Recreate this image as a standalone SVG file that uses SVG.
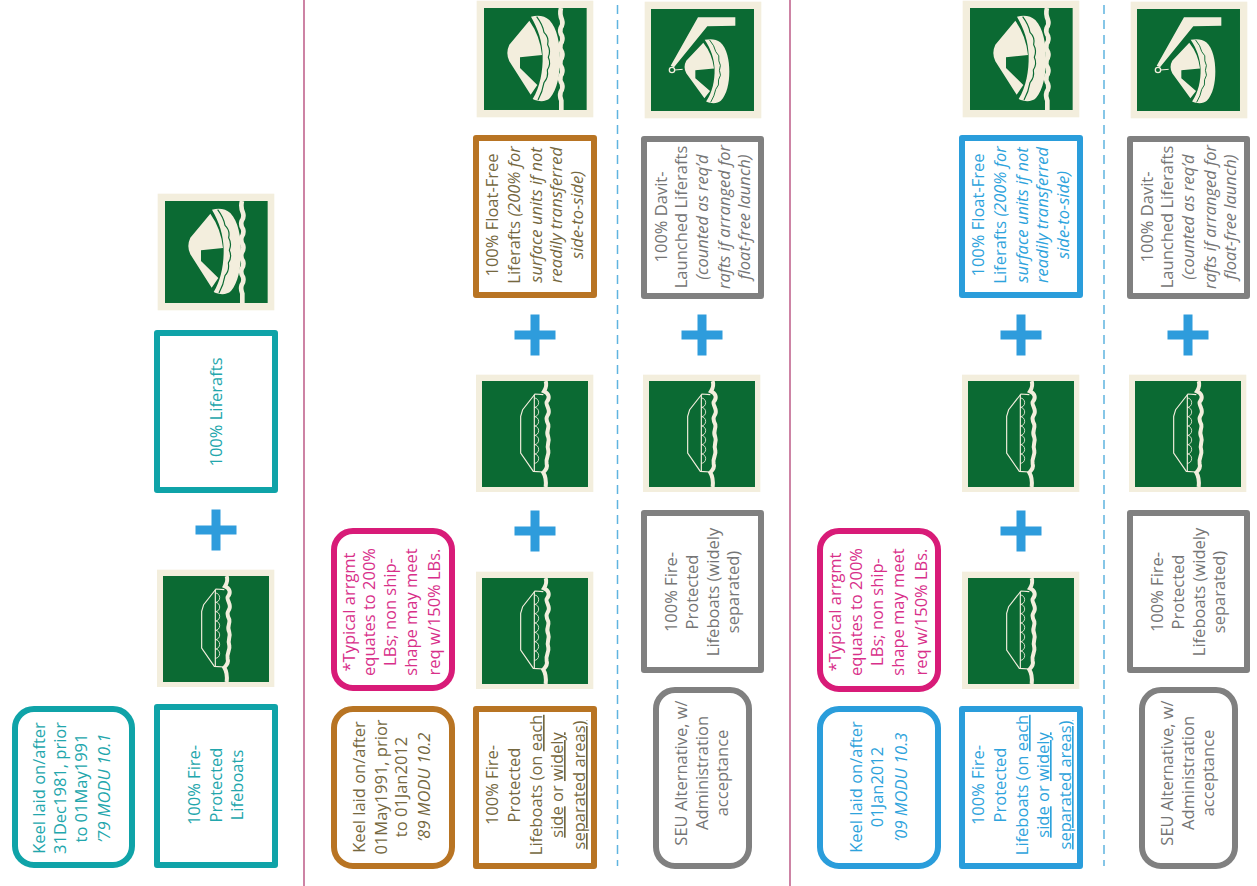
<svg xmlns="http://www.w3.org/2000/svg" xmlns:xlink="http://www.w3.org/1999/xlink" width="1257" height="886" viewBox="0 0 1257 886">
<style>
text{font-family:"Open Sans","Noto Sans","Liberation Sans",sans-serif;font-size:16.5px;text-anchor:middle}
.i{font-style:italic}.u{text-decoration:underline}
rect.b,rect.r{fill:#fff;stroke-width:6;stroke-linejoin:round}
.teal rect{stroke:#0fa3a8}.teal text{fill:#22a6ac}
.brown rect{stroke:#b87423}.brown text{fill:#75683f}
.grey rect{stroke:#808080}.grey text{fill:#757575}
.pink rect{stroke:#d81b78}.pink text{fill:#d8308a}
.blue rect{stroke:#2a9ddb}.blue text{fill:#2ea3dc}
.cream{fill:#f3eedd}.green{fill:#0b6a33}
.plus{fill:#2e9cdc}
.pl{stroke:#b8507f;stroke-width:1.4;fill:none}
.bl{stroke:#5fb4e0;stroke-width:1.5;stroke-dasharray:9 6;fill:none}
</style>
<defs>
<g id="raftbody">
<path class="cream" d="M148 50L88 122Q76 147 88 172L152 272L172 243L120 192L120 160L186 153Q180 95 148 50Z"/>
<path class="cream" d="M153 38C175 32 195 36 208 48C232 73 240 120 240 165C240 210 232 257 210 282C198 294 176 294 158 285C180 250 189 200 188 155C187 115 175 75 153 38Z"/>
<path d="M170 38Q188 62 192 85Q208 100 203 122Q213 140 205 160Q214 180 202 198Q206 220 192 236Q188 262 174 288" fill="none" stroke="#0b6a33" stroke-width="3.500"/>
</g>
<g id="raft">
<rect class="cream" x="-10" y="-10" width="350" height="350"/>
<rect class="green" x="12" y="12" width="308" height="306"/>
<use xlink:href="#raftbody" href="#raftbody"/>
<path d="M243 12Q238 30 246 48Q250 60 242 72Q238 84 246 96Q250 108 242 120Q238 132 246 144Q250 156 242 168Q238 180 246 192Q250 204 242 216Q238 228 246 240Q250 252 242 264Q238 276 244 290L244 318" fill="none" stroke="#f3eedd" stroke-width="14"/>
</g>
<g id="davit">
<rect class="cream" x="-10" y="-10" width="350" height="350"/>
<rect class="green" x="9" y="12" width="309" height="306"/>
<path class="cream" d="M150 37L262 37L262 62L178 64L78 187L68 182Z"/>
<circle cx="72" cy="195" r="8" fill="#0b6a33" stroke="#f3eedd" stroke-width="4"/>
<path d="M80 195L104 193" stroke="#f3eedd" stroke-width="3"/>
<g transform="translate(40,76) scale(.85,.75)"><use xlink:href="#raftbody" href="#raftbody"/></g>
</g>
<g id="boat">
<rect class="cream" x="-12" y="-10" width="352" height="352"/>
<rect class="green" x="6" y="9" width="318" height="318"/>
<path d="M197 9Q202 24 192 40C205 45 212 58 200 72C196 80 212 95 205 108C200 118 196 120 205 140C208 155 196 160 205 178C210 192 198 200 205 218C208 232 196 240 200 258C204 270 196 278 190 284Q200 300 197 327" fill="none" stroke="#f3eedd" stroke-width="12"/>
<path d="M190 50L165 48L128 95L122 115L122 225L160 280L190 282" fill="none" stroke="#f3eedd" stroke-width="3.500"/>
<path d="M163 50L163 280" stroke="#f3eedd" stroke-width="3.500"/>
<path d="M163 60a13 14 0 0 1 0 28a13 14 0 0 1 0 28a13 14 0 0 1 0 28a13 14 0 0 1 0 28a13 14 0 0 1 0 28a13 14 0 0 1 0 28a13 14 0 0 1 0 28" fill="none" stroke="#f3eedd" stroke-width="2.500"/>
</g>
<path id="plus" class="plus" d="M-4.500-20.500H4.500V-4.500H20.500V4.500H4.500V20.500H-4.500V4.500H-20.500V-4.500H-4.500Z"/>
</defs>

<g id="connectors">
<path class="pl" d="M304 0V886M790 0V886"/>
<path class="bl" d="M617.500 5V866M1104 5V866"/>
</g>

<!-- Column 1 -->
<g id="keel-79" class="teal"><rect class="r" x="15" y="709" width="117" height="156" rx="19"/>
<text transform="translate(45,788) rotate(-90)"><tspan x="0" y="0">Keel laid on/after</tspan><tspan x="0" y="21">31Dec1981, prior</tspan><tspan x="0" y="42">to 01May1991</tspan><tspan class="i" x="0" y="65">’79 MODU 10.1</tspan></text></g>
<g id="fpl-79" class="teal"><rect class="b" x="157" y="707" width="118" height="158"/>
<text transform="translate(200,785) rotate(-90)"><tspan x="0" y="0">100% Fire-</tspan><tspan x="0" y="22">Protected</tspan><tspan x="0" y="43">Lifeboats</tspan></text></g>
<g id="sign-boat-79" transform="translate(161,573) scale(.3333)"><use xlink:href="#boat" href="#boat"/></g>
<g id="plus-79" transform="translate(216,530)"><use xlink:href="#plus" href="#plus"/></g>
<g id="raft-79" class="teal"><rect class="b" x="157" y="333" width="118" height="157"/>
<text transform="translate(222,412) rotate(-90)">100% Liferafts</text></g>
<g id="sign-raft-79" transform="translate(161,197) scale(.3333)"><use xlink:href="#raft" href="#raft"/></g>

<!-- Column 2 -->
<g id="note-89" class="pink"><rect class="r" x="334" y="531" width="118" height="157" rx="19"/>
<text transform="translate(355,612) rotate(-90)"><tspan x="0" y="0">*Typical arrgmt</tspan><tspan x="0" y="20">equates to 200%</tspan><tspan x="0" y="41">LBs; non ship-</tspan><tspan x="0" y="62">shape may meet</tspan><tspan x="0" y="85">req w/150% LBs.</tspan></text></g>
<g id="keel-89" class="brown"><rect class="r" x="334" y="709" width="118" height="157" rx="19"/>
<text transform="translate(365,787) rotate(-90)"><tspan x="0" y="0">Keel laid on/after</tspan><tspan x="0" y="22">01May1991, prior</tspan><tspan x="0" y="42">to 01Jan2012</tspan><tspan class="i" x="0" y="65">’89 MODU 10.2</tspan></text></g>
<g id="fpl-89" class="brown"><rect class="b" x="476" y="709" width="118" height="157"/>
<text transform="translate(498,785) rotate(-90)"><tspan x="0" y="0">100% Fire-</tspan><tspan x="0" y="22">Protected</tspan><tspan x="0" y="44">Lifeboats (on <tspan class="u">each</tspan></tspan><tspan x="0" y="65"><tspan class="u">side</tspan> or <tspan class="u">widely</tspan></tspan><tspan class="u" x="0" y="87">separated areas)</tspan></text></g>
<g id="sign-boat-89a" transform="translate(480,575) scale(.3333)"><use xlink:href="#boat" href="#boat"/></g>
<g id="plus-89a" transform="translate(535,531)"><use xlink:href="#plus" href="#plus"/></g>
<g id="sign-boat-89b" transform="translate(480,378) scale(.3333)"><use xlink:href="#boat" href="#boat"/></g>
<g id="plus-89b" transform="translate(535,335)"><use xlink:href="#plus" href="#plus"/></g>
<g id="raft-89" class="brown"><rect class="b" x="476" y="138" width="118" height="157"/>
<text transform="translate(498,215) rotate(-90)"><tspan x="0" y="0">100% Float-Free</tspan><tspan x="0" y="22">Liferafts <tspan class="i">(200% for</tspan></tspan><tspan class="i" x="0" y="44">surface units if not</tspan><tspan class="i" x="0" y="64">readily transferred</tspan><tspan class="i" x="0" y="85">side-to-side)</tspan></text></g>
<g id="sign-raft-89" transform="translate(480,4) scale(.3333)"><use xlink:href="#raft" href="#raft"/></g>

<!-- Column 3 -->
<g id="seu-89" class="grey"><rect class="r" x="656" y="690" width="93" height="176" rx="19"/>
<text transform="translate(687,773) rotate(-90)"><tspan x="0" y="0">SEU Alternative, w/</tspan><tspan x="0" y="21">Administration</tspan><tspan x="0" y="41">acceptance</tspan></text></g>
<g id="fpl-alt-89" class="grey"><rect class="b" x="644" y="513" width="117" height="157"/>
<text transform="translate(677,592) rotate(-90)"><tspan x="0" y="0">100% Fire-</tspan><tspan x="0" y="21">Protected</tspan><tspan x="0" y="42">Lifeboats (widely</tspan><tspan x="0" y="62">separated)</tspan></text></g>
<g id="sign-boat-alt-89" transform="translate(647,378) scale(.3333)"><use xlink:href="#boat" href="#boat"/></g>
<g id="plus-alt-89" transform="translate(702,335)"><use xlink:href="#plus" href="#plus"/></g>
<g id="davit-89" class="grey"><rect class="b" x="644" y="139" width="117" height="157"/>
<text transform="translate(667,217) rotate(-90)"><tspan x="0" y="0">100% Davit-</tspan><tspan x="0" y="20">Launched Liferafts</tspan><tspan class="i" x="0" y="41">(counted as req’d</tspan><tspan class="i" x="0" y="63">rafts if arranged for</tspan><tspan class="i" x="0" y="83">float-free launch)</tspan></text></g>
<g id="sign-davit-89" transform="translate(648,5) scale(.3333)"><use xlink:href="#davit" href="#davit"/></g>

<!-- Column 4 -->
<g id="note-09" class="pink"><rect class="r" x="820" y="531" width="118" height="158" rx="19"/>
<text transform="translate(841,612) rotate(-90)"><tspan x="0" y="0">*Typical arrgmt</tspan><tspan x="0" y="21">equates to 200%</tspan><tspan x="0" y="42">LBs; non ship-</tspan><tspan x="0" y="63">shape may meet</tspan><tspan x="0" y="86">req w/150% LBs.</tspan></text></g>
<g id="keel-09" class="blue"><rect class="r" x="820" y="709" width="118" height="157" rx="19"/>
<text transform="translate(862,787) rotate(-90)"><tspan x="0" y="0">Keel laid on/after</tspan><tspan x="0" y="21">01Jan2012</tspan><tspan class="i" x="0" y="45">’09 MODU 10.3</tspan></text></g>
<g id="fpl-09" class="blue"><rect class="b" x="962" y="709" width="118" height="157"/>
<text transform="translate(984,785) rotate(-90)"><tspan x="0" y="0">100% Fire-</tspan><tspan x="0" y="22">Protected</tspan><tspan x="0" y="44">Lifeboats (on <tspan class="u">each</tspan></tspan><tspan x="0" y="65"><tspan class="u">side</tspan> or <tspan class="u">widely</tspan></tspan><tspan class="u" x="0" y="87">separated areas)</tspan></text></g>
<g id="sign-boat-09a" transform="translate(966,575) scale(.3333)"><use xlink:href="#boat" href="#boat"/></g>
<g id="plus-09a" transform="translate(1021,531)"><use xlink:href="#plus" href="#plus"/></g>
<g id="sign-boat-09b" transform="translate(966,378) scale(.3333)"><use xlink:href="#boat" href="#boat"/></g>
<g id="plus-09b" transform="translate(1021,335)"><use xlink:href="#plus" href="#plus"/></g>
<g id="raft-09" class="blue"><rect class="b" x="962" y="138" width="118" height="157"/>
<text transform="translate(984,215) rotate(-90)"><tspan x="0" y="0">100% Float-Free</tspan><tspan x="0" y="22">Liferafts <tspan class="i">(200% for</tspan></tspan><tspan class="i" x="0" y="44">surface units if not</tspan><tspan class="i" x="0" y="64">readily transferred</tspan><tspan class="i" x="0" y="85">side-to-side)</tspan></text></g>
<g id="sign-raft-09" transform="translate(966,4) scale(.3333)"><use xlink:href="#raft" href="#raft"/></g>

<!-- Column 5 -->
<g id="seu-09" class="grey"><rect class="r" x="1142" y="690" width="93" height="176" rx="19"/>
<text transform="translate(1173,773) rotate(-90)"><tspan x="0" y="0">SEU Alternative, w/</tspan><tspan x="0" y="21">Administration</tspan><tspan x="0" y="41">acceptance</tspan></text></g>
<g id="fpl-alt-09" class="grey"><rect class="b" x="1130" y="513" width="117" height="157"/>
<text transform="translate(1163,592) rotate(-90)"><tspan x="0" y="0">100% Fire-</tspan><tspan x="0" y="21">Protected</tspan><tspan x="0" y="42">Lifeboats (widely</tspan><tspan x="0" y="62">separated)</tspan></text></g>
<g id="sign-boat-alt-09" transform="translate(1133,378) scale(.3333)"><use xlink:href="#boat" href="#boat"/></g>
<g id="plus-alt-09" transform="translate(1188,335)"><use xlink:href="#plus" href="#plus"/></g>
<g id="davit-09" class="grey"><rect class="b" x="1130" y="139" width="117" height="157"/>
<text transform="translate(1153,217) rotate(-90)"><tspan x="0" y="0">100% Davit-</tspan><tspan x="0" y="20">Launched Liferafts</tspan><tspan class="i" x="0" y="41">(counted as req’d</tspan><tspan class="i" x="0" y="63">rafts if arranged for</tspan><tspan class="i" x="0" y="83">float-free launch)</tspan></text></g>
<g id="sign-davit-09" transform="translate(1134,5) scale(.3333)"><use xlink:href="#davit" href="#davit"/></g>
</svg>
